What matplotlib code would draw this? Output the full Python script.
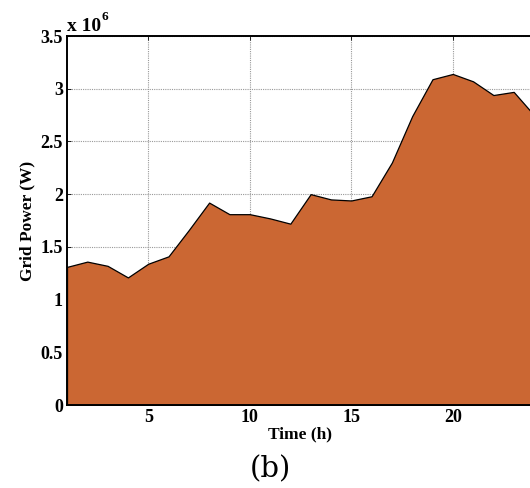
import numpy as np
from matplotlib import pyplot as plt

plt.rcParams["font.family"] = "Liberation Serif"
plt.rcParams["font.weight"] = "bold"

hours = np.arange(1, 25)
grid_power = [1.31, 1.36, 1.32, 1.21, 1.34, 1.41, 1.66, 1.92, 1.81, 1.81, 1.77, 1.72,
              2.00, 1.95, 1.94, 1.98, 2.30, 2.74, 3.09, 3.14, 3.07, 2.94, 2.97, 2.75]
power_w = np.array(grid_power) * 1e6

fig = plt.figure(figsize=(5.3, 4.88), dpi=100)
ax = fig.add_axes([67 / 530, 83 / 488, 467 / 530, 369 / 488])

ax.fill_between(hours, 0, power_w, facecolor="#CB6733", edgecolor="black", linewidth=0.9, zorder=2)

ax.set_xlim(1, 24)
ax.set_ylim(0, 3.5e6)
ax.set_xticks([5, 10, 15, 20])
yt = np.arange(0, 3.51, 0.5)
ax.set_yticks(yt * 1e6)
ax.set_yticklabels(["%g" % v for v in yt])
ax.set_axisbelow(True)
ax.grid(True, linestyle=(0, (1, 1)), color="#999999", linewidth=0.8)
ax.tick_params(direction="in", length=3, width=0.6, top=True, right=True, labelsize=13, pad=3)
for lab in ax.get_xticklabels() + ax.get_yticklabels():
    lab.set_fontweight("bold")
for s in ax.spines.values():
    s.set_linewidth(1.4)

ax.set_xlabel("Time (h)", fontsize=12.5, fontweight="bold", labelpad=0)
ax.set_ylabel("Grid Power (W)", fontsize=12.5, fontweight="bold", labelpad=4)

fig.text(67 / 530, 1 - 31 / 488, "x 10", fontsize=14, fontweight="bold", ha="left", va="baseline")
fig.text(102 / 530, 1 - 20 / 488, "6", fontsize=9.5, fontweight="bold", ha="left", va="baseline")
fig.text(270 / 530, 1 - 477 / 488, "(b)", fontsize=21, fontweight="normal", family="DejaVu Serif",
         ha="center", va="baseline")

fig.savefig("out.png", dpi=100)
